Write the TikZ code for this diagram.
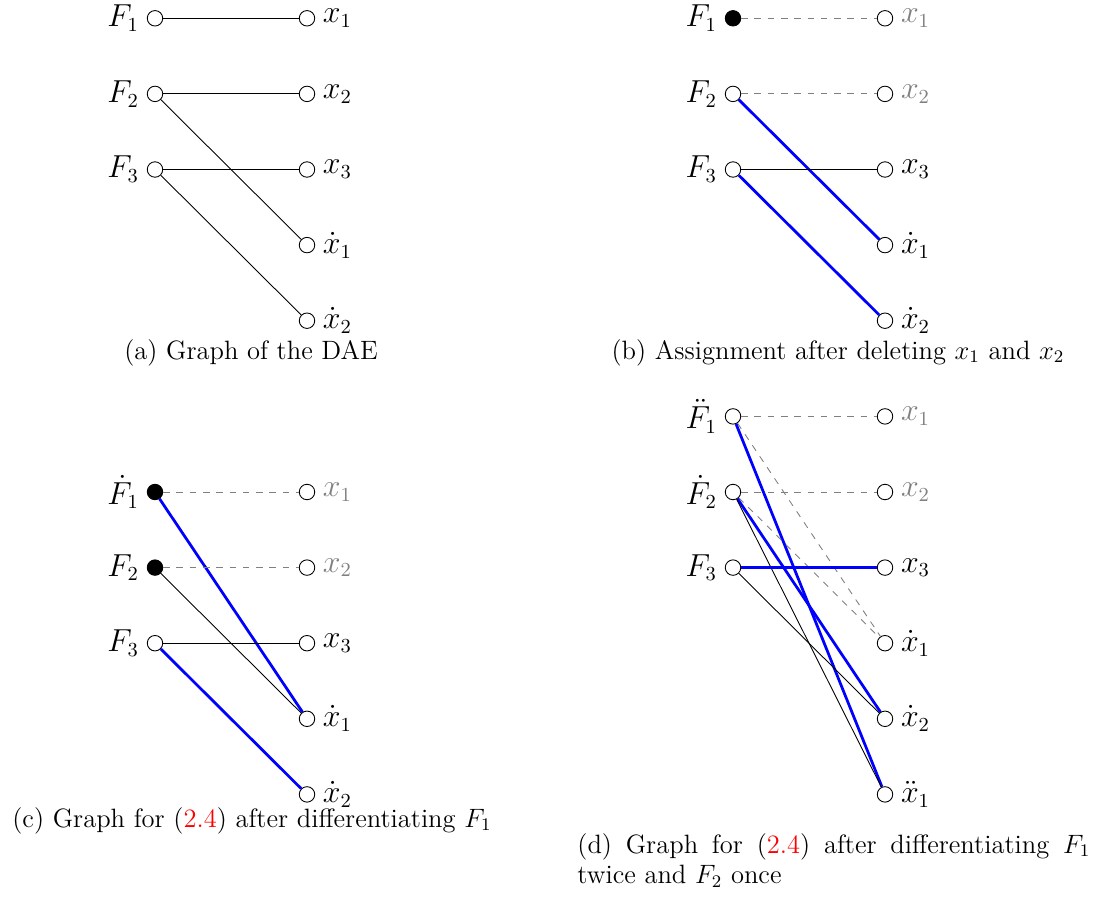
\documentclass[tikz,border=0pt]{standalone}
\usepackage{xcolor}
\begin{document}
\begin{tikzpicture}[x=0.4523pt,y=-0.4523pt,
  font=\fontsize{12}{13.6}\selectfont,
  every label/.style={font=\fontsize{13.5}{15}\selectfont},
  vnode/.style={circle,draw,inner sep=0pt,minimum size=7pt},
  fnode/.style={vnode,fill=black},
  plainedge/.style={thin},
  deledge/.style={gray,dashed,thin},
  matchedge/.style={blue,line width=1.25pt},
  caption/.style={inner sep=0pt}]
\useasboundingbox (0,0) rectangle (1094,896);
% ---------- (a)
\node[vnode,label=left:$F_1$] (aF1) at (155,18.3) {};
\node[vnode,label=left:$F_2$] (aF2) at (155,93.9) {};
\node[vnode,label=left:$F_3$] (aF3) at (155,169.5) {};
\node[vnode,label=right:$x_1$] (ax1) at (307,18.3) {};
\node[vnode,label=right:$x_2$] (ax2) at (307,93.9) {};
\node[vnode,label=right:$x_3$] (ax3) at (307,169.5) {};
\node[vnode,label=right:$\dot x_1$] (axd1) at (307,245.1) {};
\node[vnode,label=right:$\dot x_2$] (axd2) at (307,320.7) {};
\draw[plainedge] (aF1) -- (ax1);
\draw[plainedge] (aF2) -- (ax2);
\draw[plainedge] (aF2) -- (axd1);
\draw[plainedge] (aF3) -- (ax3);
\draw[plainedge] (aF3) -- (axd2);
\node[caption,anchor=base] (capa) at (251,359) {(a) Graph of the DAE};
% ---------- (b)
\node[fnode,label=left:$F_1$] (bF1) at (733,18.3) {};
\node[vnode,label=left:$F_2$] (bF2) at (733,93.9) {};
\node[vnode,label=left:$F_3$] (bF3) at (733,169.5) {};
\node[vnode,label={[text=gray]right:$x_1$}] (bx1) at (885,18.3) {};
\node[vnode,label={[text=gray]right:$x_2$}] (bx2) at (885,93.9) {};
\node[vnode,label=right:$x_3$] (bx3) at (885,169.5) {};
\node[vnode,label=right:$\dot x_1$] (bxd1) at (885,245.1) {};
\node[vnode,label=right:$\dot x_2$] (bxd2) at (885,320.7) {};
\draw[deledge] (bF1) -- (bx1);
\draw[deledge] (bF2) -- (bx2);
\draw[matchedge] (bF2) -- (bxd1);
\draw[plainedge] (bF3) -- (bx3);
\draw[matchedge] (bF3) -- (bxd2);
\node[caption,anchor=base] (capb) at (838,359) {(b) Assignment after deleting $x_1$ and $x_2$};
% ---------- (c)
\node[fnode,label=left:$\dot F_1$] (cF1) at (155,492) {};
\node[fnode,label=left:$F_2$] (cF2) at (155,567.6) {};
\node[vnode,label=left:$F_3$] (cF3) at (155,643.2) {};
\node[vnode,label={[text=gray]right:$x_1$}] (cx1) at (307,492) {};
\node[vnode,label={[text=gray]right:$x_2$}] (cx2) at (307,567.6) {};
\node[vnode,label=right:$x_3$] (cx3) at (307,643.2) {};
\node[vnode,label=right:$\dot x_1$] (cxd1) at (307,718.8) {};
\node[vnode,label=right:$\dot x_2$] (cxd2) at (307,794.4) {};
\draw[deledge] (cF1) -- (cx1);
\draw[matchedge] (cF1) -- (cxd1);
\draw[deledge] (cF2) -- (cx2);
\draw[plainedge] (cF2) -- (cxd1);
\draw[plainedge] (cF3) -- (cx3);
\draw[matchedge] (cF3) -- (cxd2);
\node[caption,anchor=base] (capc) at (252,827) {(c) Graph for ({\color{red}2.4}) after differentiating $F_1$};
% ---------- (d)
\node[vnode,label=left:$\ddot F_1$] (dF1) at (733,416.4) {};
\node[vnode,label=left:$\dot F_2$] (dF2) at (733,492) {};
\node[vnode,label=left:$F_3$] (dF3) at (733,567.6) {};
\node[vnode,label={[text=gray]right:$x_1$}] (dx1) at (885,416.4) {};
\node[vnode,label={[text=gray]right:$x_2$}] (dx2) at (885,492) {};
\node[vnode,label=right:$x_3$] (dx3) at (885,567.6) {};
\node[vnode,label=right:$\dot x_1$] (dxd1) at (885,643.2) {};
\node[vnode,label=right:$\dot x_2$] (dxd2) at (885,718.8) {};
\node[vnode,label=right:$\ddot x_1$] (dxdd1) at (885,794.4) {};
\draw[deledge] (dF1) -- (dx1);
\draw[deledge] (dF1) -- (dxd1);
\draw[matchedge] (dF1) -- (dxdd1);
\draw[deledge] (dF2) -- (dx2);
\draw[deledge] (dF2) -- (dxd1);
\draw[matchedge] (dF2) -- (dxd2);
\draw[plainedge] (dF2) -- (dxdd1);
\draw[matchedge] (dF3) -- (dx3);
\draw[plainedge] (dF3) -- (dxd2);
\node[caption,anchor=base west,align=justify,text width=232pt] (capd) at (577,853) {(d) Graph for ({\color{red}2.4}) after differentiating $F_1$ twice and $F_2$ once};
\end{tikzpicture}
\end{document}
